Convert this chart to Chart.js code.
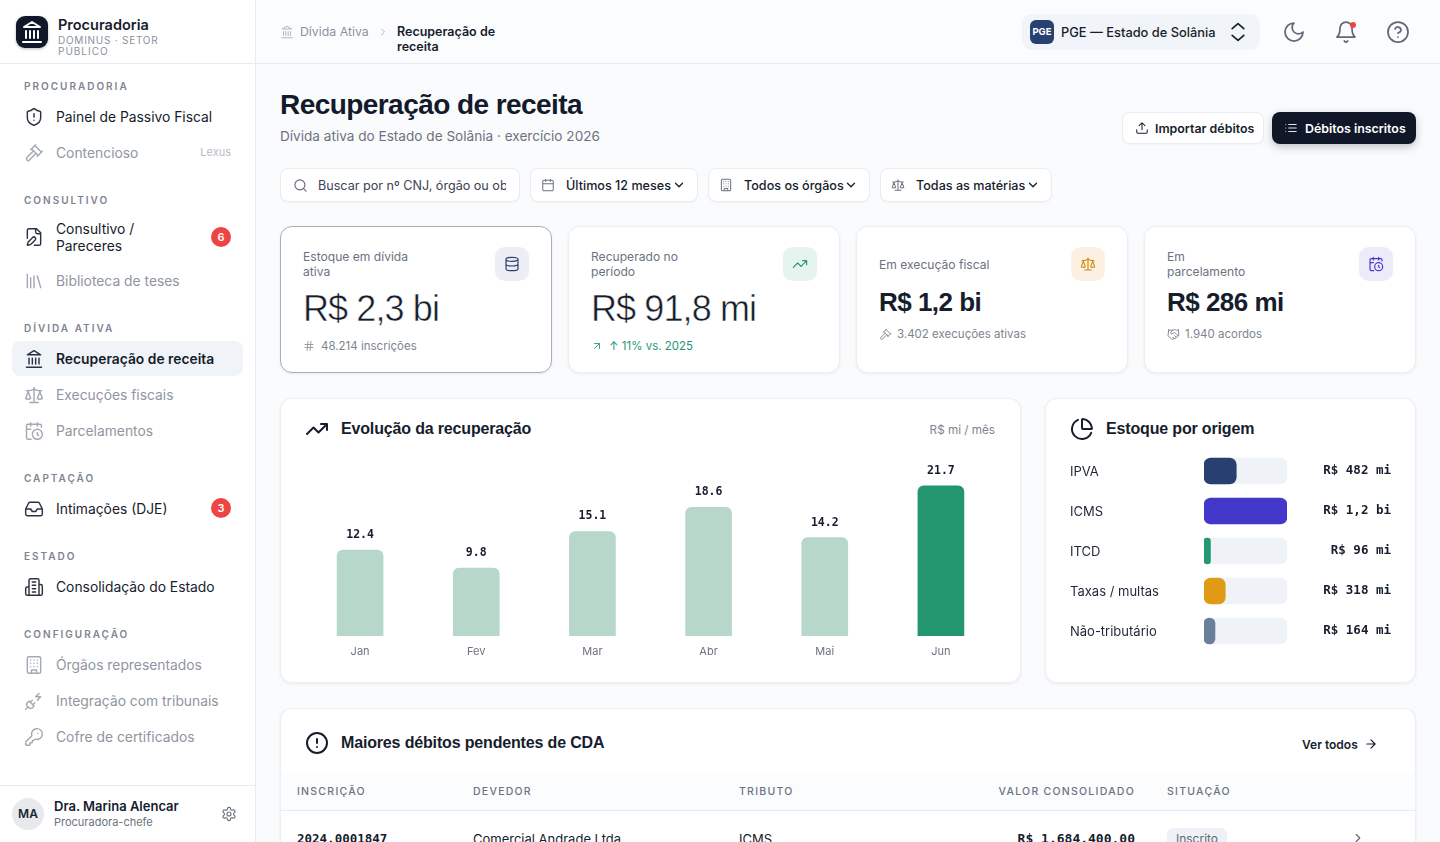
<!DOCTYPE html>
<html lang="pt-BR">
<head>
<meta charset="utf-8">
<title>Recuperação de receita</title>
<script src="https://cdn.jsdelivr.net/npm/chart.js@4"></script>
<style>
html, body { margin: 0; height: 100%; overflow: hidden; background: #fafbfc; }
body { font-family: Inter, "Noto Sans", sans-serif; color: #161d2d; }
#page { position: relative; width: 1440px; height: 842px; overflow: hidden; }
.box { position: absolute; box-sizing: border-box; }
.t { position: absolute; white-space: nowrap; line-height: 20px; }
.card { background: #fff; border: 1px solid #eceff3; border-radius: 12px; box-shadow: 0 1px 3px rgba(16,24,40,.07); }
.ctl { background: #fff; border: 1px solid #e9ecf0; border-radius: 8px; box-shadow: 0 1px 2px rgba(16,24,40,.04); }
.sec { font-size: 10px; font-weight: 600; letter-spacing: .2em; color: #7d8590; }
.head { font-family: "Liberation Sans", Arial, sans-serif; font-weight: 700; font-size: 16px; letter-spacing: -.01em; color: #161d2d; }
.mono { font-family: "DejaVu Sans Mono", monospace; font-weight: 700; }
canvas { position: absolute; }
svg { position: absolute; fill: none; stroke: currentColor; stroke-linecap: round; stroke-linejoin: round; }
</style>
</head>
<body>
<div id="page"></div>
<script>
// chart data
const months = ["Jan", "Fev", "Mar", "Abr", "Mai", "Jun"];
const recovered = [12.4, 9.8, 15.1, 18.6, 14.2, 21.7];
const highlightMonth = "Jun";

const origins = ["IPVA", "ICMS", "ITCD", "Taxas / multas", "Não-tributário"];
const originValues = [482, 1240, 96, 318, 164];
const originLabels = ["R$ 482 mi", "R$ 1,2 bi", "R$ 96 mi", "R$ 318 mi", "R$ 164 mi"];
const originColors = ["#27406f", "#4338ca", "#259873", "#e09a16", "#6b7f99"];
const originTrack = [1240, 1240, 1240, 1240, 1240];

const icons = {
    bank: 'M3 22h18M6 18v-7M10 18v-7M14 18v-7M18 18v-7M12 2l8 5H4z',
    shield: 'M20 13c0 5-3.5 7.5-7.66 8.95a1 1 0 0 1-.67-.01C7.5 20.5 4 18 4 13V6a1 1 0 0 1 1-1c2 0 4.5-1.2 6.24-2.72a1.17 1.17 0 0 1 1.52 0C14.51 3.81 17 5 19 5a1 1 0 0 1 1 1zM12 8v4M12 16h.01',
    gavel: 'm14 13-7.5 7.5a2.12 2.12 0 0 1-3-3L11 10M16 16l6-6M8 8l6-6M9 7l8 8M21 11l-8-8',
    filepen: 'M12.5 22H18a2 2 0 0 0 2-2V7l-5-5H6a2 2 0 0 0-2 2v9.5M14 2v4a2 2 0 0 0 2 2h4M13.378 15.626a1 1 0 1 0-3.004-3.004l-5.01 5.012a2 2 0 0 0-.506.854l-.837 2.87a.5.5 0 0 0 .62.62l2.87-.837a2 2 0 0 0 .854-.506z',
    library: 'm16 6 4 14M12 6v14M8 8v12M4 4v16',
    scale: 'm16 16 3-8 3 8c-.87.65-1.92 1-3 1s-2.13-.35-3-1ZM2 16l3-8 3 8c-.87.65-1.92 1-3 1s-2.13-.35-3-1ZM7 21h10M12 3v18M3 7h2c2 0 5-1 7-2 2 1 5 2 7 2h2',
    calclock: 'M21 7.5V6a2 2 0 0 0-2-2H5a2 2 0 0 0-2 2v14a2 2 0 0 0 2 2h3.5M16 2v4M8 2v4M3 10h5M17.5 17.5 16 16.3V14M22 16a6 6 0 1 1-12 0 6 6 0 0 1 12 0z',
    inbox: 'M22 12h-6l-2 3h-4l-2-3H2M5.45 5.11 2 12v6a2 2 0 0 0 2 2h16a2 2 0 0 0 2-2v-6l-3.45-6.89A2 2 0 0 0 16.76 4H7.24a2 2 0 0 0-1.79 1.11z',
    hotel: 'M6 22V4a2 2 0 0 1 2-2h8a2 2 0 0 1 2 2v18ZM6 12H4a2 2 0 0 0-2 2v6a2 2 0 0 0 2 2h2M18 9h2a2 2 0 0 1 2 2v9a2 2 0 0 1-2 2h-2M10 6h4M10 10h4M10 14h4M10 18h4',
    building: 'M6 2h12a2 2 0 0 1 2 2v16a2 2 0 0 1-2 2H6a2 2 0 0 1-2-2V4a2 2 0 0 1 2-2zM9 22v-4h6v4M8 6h.01M16 6h.01M12 6h.01M12 10h.01M12 14h.01M16 10h.01M16 14h.01M8 10h.01M8 14h.01',
    plug: 'M6.3 20.3a2.4 2.4 0 0 0 3.4 0L12 18l-6-6-2.3 2.3a2.4 2.4 0 0 0 0 3.4ZM2 22l3-3M7.5 13.5 10 11M10.5 16.5 13 14M18 3l-4 4h6l-4 4',
    key: 'M2.586 17.414A2 2 0 0 0 2 18.828V21a1 1 0 0 0 1 1h3a1 1 0 0 0 1-1v-1a1 1 0 0 1 1-1h1a1 1 0 0 0 1-1v-1a1 1 0 0 1 1-1h.172a2 2 0 0 0 1.414-.586l.814-.814a6.5 6.5 0 1 0-4-4zM16.5 7.5h.01',
    gear: 'M12.22 2h-.44a2 2 0 0 0-2 2v.18a2 2 0 0 1-1 1.73l-.43.25a2 2 0 0 1-2 0l-.15-.08a2 2 0 0 0-2.73.73l-.22.38a2 2 0 0 0 .73 2.73l.15.1a2 2 0 0 1 1 1.72v.51a2 2 0 0 1-1 1.74l-.15.09a2 2 0 0 0-.73 2.73l.22.38a2 2 0 0 0 2.73.73l.15-.08a2 2 0 0 1 2 0l.43.25a2 2 0 0 1 1 1.73V20a2 2 0 0 0 2 2h.44a2 2 0 0 0 2-2v-.18a2 2 0 0 1 1-1.73l.43-.25a2 2 0 0 1 2 0l.15.08a2 2 0 0 0 2.73-.73l.22-.39a2 2 0 0 0-.73-2.73l-.15-.08a2 2 0 0 1-1-1.74v-.5a2 2 0 0 1 1-1.74l.15-.09a2 2 0 0 0 .73-2.73l-.22-.38a2 2 0 0 0-2.73-.73l-.15.08a2 2 0 0 1-2 0l-.43-.25a2 2 0 0 1-1-1.73V4a2 2 0 0 0-2-2zM15 12a3 3 0 1 1-6 0 3 3 0 0 1 6 0z',
    chevright: 'm9 18 6-6-6-6',
    chevdown: 'm6 9 6 6 6-6',
    updown: 'm5 16 7 6 7-6M5 8l7-6 7 6',
    moon: 'M12 3a6 6 0 0 0 9 9 9 9 0 1 1-9-9Z',
    bell: 'M6 8a6 6 0 0 1 12 0c0 7 3 9 3 9H3s3-2 3-9M10.3 21a1.94 1.94 0 0 0 3.4 0',
    help: 'M22 12a10 10 0 1 1-20 0 10 10 0 0 1 20 0zM9.09 9a3 3 0 0 1 5.83 1c0 2-3 3-3 3M12 17h.01',
    upload: 'M21 15v4a2 2 0 0 1-2 2H5a2 2 0 0 1-2-2v-4M17 8l-5-5-5 5M12 3v12',
    list: 'M8 6h13M8 12h13M8 18h13M3 6h.01M3 12h.01M3 18h.01',
    search: 'M19 11a8 8 0 1 1-16 0 8 8 0 0 1 16 0zM21 21l-4.3-4.3',
    calendar: 'M8 2v4M16 2v4M5 4h14a2 2 0 0 1 2 2v14a2 2 0 0 1-2 2H5a2 2 0 0 1-2-2V6a2 2 0 0 1 2-2zM3 10h18',
    trend: 'M22 7l-8.5 8.5-5-5L2 17M16 7h6v6',
    hash: 'M4 9h16M4 15h16M10 3 8 21M16 3l-2 18',
    upright: 'M7 7h10v10M7 17 17 7',
    database: 'M21 5c0 1.66-4 3-9 3S3 6.66 3 5s4-3 9-3 9 1.34 9 3zM3 5v14c0 1.66 4 3 9 3s9-1.34 9-3V5M3 12c0 1.66 4 3 9 3s9-1.34 9-3',
    handshake: 'm11 17 2 2a1 1 0 1 0 3-3m-2-2 2.5 2.5a1 1 0 1 0 3-3l-3.88-3.88a3 3 0 0 0-4.24 0l-.88.88a1 1 0 1 1-3-3l2.81-2.81a5.79 5.79 0 0 1 7.06-.87l.47.28a2 2 0 0 0 1.42.25L21 4M21 3l1 11h-2M3 3 2 14l6.5 6.5a1 1 0 1 0 3-3M3 4h8',
    pie: 'M21 12c.552 0 1.005-.449.95-.998a10 10 0 0 0-8.953-8.951c-.55-.055-.998.398-.998.95v8a1 1 0 0 0 1 1zM21.21 15.89A10 10 0 1 1 8 2.83',
    alert: 'M22 12a10 10 0 1 1-20 0 10 10 0 0 1 20 0zM12 8v4M12 16h.01',
    arrow: 'M5 12h14M12 5l7 7-7 7'
};

const page = document.getElementById("page");

// absolute box from its edges
function box(x0, y0, x1, y1, cls, css) {
    const el = document.createElement("div");
    el.className = "box " + (cls || "");
    el.style.cssText = `left:${x0}px;top:${y0}px;width:${x1 - x0}px;height:${y1 - y0}px;${css || ""}`;
    page.appendChild(el);
    return el;
}

// text by left edge and vertical centre, a negative x means the right edge
function txt(x, cy, str, css, cls) {
    const el = document.createElement("div");
    el.className = "t " + (cls || "");
    el.textContent = str;
    const pos = x < 0 ? `right:${1440 + x}px;` : `left:${x}px;`;
    el.style.cssText = `${pos}top:${cy - 10}px;${css || ""}`;
    page.appendChild(el);
    return el;
}

function ico(name, cx, cy, size, color, sw) {
    const s = document.createElementNS("http://www.w3.org/2000/svg", "svg");
    s.setAttribute("viewBox", "0 0 24 24");
    s.setAttribute("width", size);
    s.setAttribute("height", size);
    s.style.cssText = `left:${cx - size / 2}px;top:${cy - size / 2}px;color:${color};stroke-width:${sw || 1.75}`;
    const p = document.createElementNS("http://www.w3.org/2000/svg", "path");
    p.setAttribute("d", icons[name]);
    s.appendChild(p);
    page.appendChild(s);
}

const DARK = "#161d2d";

// sidebar
box(0, 0, 256, 842, "", "background:#fff;border-right:1px solid #e8ebef;");
box(0, 63, 255, 64, "", "background:#e8ebef;");
box(0, 785, 255, 786, "", "background:#e8ebef;");
box(16, 16, 48, 48, "", "background:#0f1729;border-radius:9px;box-shadow:0 1px 3px rgba(15,23,41,.3);");
ico("bank", 32, 32, 24, "#fff", 2);
txt(58, 25, "Procuradoria", "font-size:14.5px;font-weight:600;color:#161d2d;");
txt(58, 40, "DOMINUS · SETOR", "font-size:10px;letter-spacing:.075em;color:#8b929c;");
txt(58, 51, "PÚBLICO", "font-size:10px;letter-spacing:.1em;color:#8b929c;");

const sections = [["PROCURADORIA", 86], ["CONSULTIVO", 200], ["DÍVIDA ATIVA", 328], ["CAPTAÇÃO", 478], ["ESTADO", 556], ["CONFIGURAÇÃO", 634]];
sections.forEach(s => txt(24, s[1], s[0], "", "sec"));

box(12, 341, 243, 376, "", "background:#f0f3f8;border-radius:8px;");
const navItems = [
    ["shield", "Painel de Passivo Fiscal", 117, 1],
    ["gavel", "Contencioso", 153, 0],
    ["library", "Biblioteca de teses", 281, 0],
    ["bank", "Recuperação de receita", 359, 2],
    ["scale", "Execuções fiscais", 395, 0],
    ["calclock", "Parcelamentos", 431, 0],
    ["inbox", "Intimações (DJE)", 509, 1],
    ["hotel", "Consolidação do Estado", 587, 1],
    ["building", "Órgãos representados", 665, 0],
    ["plug", "Integração com tribunais", 701, 0],
    ["key", "Cofre de certificados", 737, 0]
];
navItems.forEach(n => {
    const color = n[3] ? "#2b3342" : "#a4aab3";
    ico(n[0], 34, n[2], 20, color);
    txt(56, n[2], n[1], `font-size:13.85px;color:${n[3] ? DARK : "#8f96a1"};font-weight:${n[3] === 2 ? 600 : 400};`);
});
ico("filepen", 34, 237, 20, "#2b3342");
txt(56, 229, "Consultivo /", "font-size:13.85px;");
txt(56, 246, "Pareceres", "font-size:13.85px;");
txt(-231, 152, "Lexus", "font-size:11px;color:#b6bbc3;");
[[221, 237, "6"], [221, 508, "3"]].forEach(b => {
    const el = box(b[0] - 10, b[1] - 10, b[0] + 10, b[1] + 10, "", "background:#ef4444;border-radius:50%;color:#fff;font-size:11px;font-weight:600;text-align:center;line-height:20px;");
    el.textContent = b[2];
});
const avatar = box(12, 798, 44, 830, "", "background:#e7e9ed;border-radius:50%;font-size:12px;font-weight:600;text-align:center;line-height:32px;color:#1c2433;");
avatar.textContent = "MA";
txt(54, 806, "Dra. Marina Alencar", "font-size:13px;font-weight:600;");
txt(54, 822, "Procuradora-chefe", "font-size:11px;color:#6b7380;");
ico("gear", 229, 814, 16, "#6b7380");

// top bar
box(256, 0, 1440, 64, "", "background:#fbfcfd;border-bottom:1px solid #e8ebef;");
ico("bank", 287, 32, 14, "#b0b6bf");
txt(300, 32, "Dívida Ativa", "font-size:12.3px;color:#8b929c;");
ico("chevright", 383, 32, 12, "#a4aab3");
txt(397, 32, "Recuperação de", "font-size:12.5px;font-weight:600;");
txt(397, 47, "receita", "font-size:12.5px;font-weight:600;");
box(1022, 14, 1260, 50, "", "background:#f1f5f9;border-radius:9px;");
const pge = box(1030, 20, 1054, 44, "", "background:#27406f;border-radius:6px;color:#fff;font-size:9.5px;font-weight:700;text-align:center;line-height:24px;");
pge.textContent = "PGE";
txt(1061, 33, "PGE — Estado de Solânia", "font-size:12.85px;font-weight:500;");
ico("updown", 1238, 32, 20, DARK, 2);
ico("moon", 1294, 32, 24, "#5f6877");
ico("bell", 1346, 32, 24, "#5f6877");
box(1350, 22, 1356, 28, "", "background:#ef4444;border-radius:50%;");
ico("help", 1398, 32, 24, "#5f6877");

// page heading
txt(280, 105, "Recuperação de receita", 'font-family:"Liberation Sans",Arial,sans-serif;font-size:28px;font-weight:700;letter-spacing:-.02em;color:#121a2b;');
txt(280, 136, "Dívida ativa do Estado de Solânia · exercício 2026", "font-size:13.6px;color:#6b7380;");
box(1122, 112, 1264, 144, "ctl");
ico("upload", 1142, 128, 14, DARK);
txt(1155, 129, "Importar débitos", "font-size:12.4px;font-weight:600;");
box(1272, 112, 1416, 144, "", "background:#0f1729;border-radius:8px;box-shadow:0 3px 8px rgba(15,23,41,.25);");
ico("list", 1291, 128, 14, "#dfe3e9");
txt(1305, 129, "Débitos inscritos", "font-size:12.4px;font-weight:600;color:#fff;");

// filters
box(280, 168, 520, 202, "ctl");
ico("search", 300, 185, 15, "#5f6877");
txt(318, 186, "Buscar por nº CNJ, órgão ou objeto", "font-size:12.6px;color:#3a4353;width:188px;overflow:hidden;");
const filters = [[530, 698, "calendar", "Últimos 12 meses"], [708, 870, "building", "Todos os órgãos"], [880, 1052, "scale", "Todas as matérias"]];
filters.forEach(f => {
    box(f[0], 168, f[1], 202, "ctl");
    ico(f[2], f[0] + 18, 185, 14, "#6b7380");
    txt(f[0] + 36, 186, f[3], "font-size:12.6px;font-weight:500;");
    ico("chevdown", f[1] - 19, 185, 14, DARK, 2.25);
});

// kpi cards
box(280, 226, 552, 373, "card", "border-color:#a9aeb6;");
box(568, 226, 840, 373, "card");
box(856, 226, 1128, 373, "card");
box(1144, 226, 1416, 373, "card");
const lab = "font-size:12.1px;color:#6b7380;";
const big = 'font-family:"Liberation Sans",Arial,sans-serif;font-size:36px;line-height:40px;margin-top:-10px;color:#161d2d;letter-spacing:-.025em;-webkit-text-stroke:.5px #fff;';
const bold = 'font-family:"Liberation Sans",Arial,sans-serif;font-size:26px;line-height:30px;margin-top:-5px;color:#161d2d;font-weight:700;letter-spacing:-.02em;';
const foot = "font-size:11.5px;color:#7d8590;";
txt(303, 257, "Estoque em dívida", lab);
txt(303, 272, "ativa", lab);
box(495, 247, 529, 281, "", "background:#eceef4;border-radius:10px;");
ico("database", 512, 264, 16, "#27406f");
txt(303, 309, "R$ 2,3 bi", big);
ico("hash", 309, 346, 12, "#8b929c");
txt(321, 346, "48.214 inscrições", foot);
txt(591, 257, "Recuperado no", lab);
txt(591, 272, "período", lab);
box(783, 247, 817, 281, "", "background:#e6f3ee;border-radius:10px;");
ico("trend", 800, 264, 16, "#259873");
txt(591, 309, "R$ 91,8 mi", big);
ico("upright", 597, 346, 12, "#259873");
txt(609, 346, "↑ 11% vs. 2025", "font-size:11.5px;color:#259873;");
txt(879, 265, "Em execução fiscal", lab);
box(1071, 247, 1105, 281, "", "background:#fbf1e2;border-radius:10px;");
ico("scale", 1088, 264, 16, "#d18a12");
txt(879, 302, "R$ 1,2 bi", bold);
ico("gavel", 885, 334, 13, "#7d8590");
txt(897, 334, "3.402 execuções ativas", foot);
txt(1167, 257, "Em", lab);
txt(1167, 272, "parcelamento", lab);
box(1359, 247, 1393, 281, "", "background:#ebebfa;border-radius:10px;");
ico("calclock", 1376, 264, 16, "#4338ca");
txt(1167, 302, "R$ 286 mi", bold);
ico("handshake", 1173, 334, 13, "#7d8590");
txt(1185, 334, "1.940 acordos", foot);

// chart cards
box(280, 398, 1021, 683, "card");
ico("trend", 317, 429, 24, DARK, 2);
txt(341, 429, "Evolução da recuperação", "", "head");
txt(-995, 430, "R$ mi / mês", "font-size:11.7px;color:#7d8590;");
box(1045, 398, 1416, 683, "card");
ico("pie", 1082, 429, 24, DARK, 2);
txt(1106, 429, "Estoque por origem", "", "head");

// table card
box(280, 708, 1416, 900, "card");
ico("alert", 317, 743, 24, DARK, 2);
txt(341, 743, "Maiores débitos pendentes de CDA", "", "head");
txt(1302, 745, "Ver todos", "font-size:12px;font-weight:600;");
ico("arrow", 1371, 744, 14, DARK, 2);
box(281, 773, 1415, 811, "", "background:#fbfcfd;border-bottom:1px solid #e8ebef;");
const th = "font-size:10.5px;font-weight:500;letter-spacing:.12em;color:#6b7380;";
txt(297, 792, "INSCRIÇÃO", th);
txt(473, 792, "DEVEDOR", th);
txt(739, 792, "TRIBUTO", th);
txt(-1135, 792, "VALOR CONSOLIDADO", th);
txt(1167, 792, "SITUAÇÃO", th);
txt(297, 839, "2024.0001847", "font-size:12.5px;", "mono");
txt(473, 839, "Comercial Andrade Ltda.", "font-size:13px;");
txt(739, 839, "ICMS", "font-size:13px;");
txt(-1135, 839, "R$ 1.684.400,00", "font-size:13px;", "mono");
const badge = box(1167, 828, 1227, 850, "", "background:#eef1f6;border-radius:6px;font-size:12px;color:#5f6877;text-align:center;line-height:22px;");
badge.textContent = "Inscrito";
ico("chevright", 1358, 838, 14, "#5f6877", 2);

function addCanvas(x0, y0, x1, y1) {
    const c = document.createElement("canvas");
    c.style.cssText = `left:${x0}px;top:${y0}px;width:${x1 - x0}px;height:${y1 - y0}px;`;
    c.width = x1 - x0;
    c.height = y1 - y0;
    page.appendChild(c);
    return c;
}

// value above each bar
const barValues = {
    id: "barValues",
    afterDatasetsDraw(chart) {
        const ctx = chart.ctx;
        ctx.save();
        ctx.font = 'bold 11.5px "DejaVu Sans Mono", monospace';
        ctx.fillStyle = "#161d2d";
        ctx.textAlign = "center";
        ctx.textBaseline = "middle";
        chart.getDatasetMeta(0).data.forEach((bar, i) => {
            ctx.fillText(recovered[i].toFixed(1), bar.x, bar.y - 15);
        });
        ctx.restore();
    }
};

new Chart(addCanvas(302, 456, 999, 660), {
    type: "bar",
    data: {
        labels: months,
        datasets: [{
            data: recovered,
            backgroundColor: months.map(m => m === highlightMonth ? "#23956f" : "#b7d7cb"),
            barThickness: 46,
            borderRadius: { topLeft: 6, topRight: 6 },
            borderSkipped: "bottom"
        }]
    },
    options: {
        responsive: false,
        animation: false,
        layout: { padding: 0 },
        plugins: { legend: { display: false }, tooltip: { enabled: false } },
        scales: {
            y: { display: false, min: 0, max: 26 },
            x: {
                grid: { display: false },
                border: { display: false },
                afterFit(axis) { axis.height = 24; },
                ticks: { color: "#6b7380", font: { family: "Inter", size: 11 }, padding: 1, maxRotation: 0 }
            }
        }
    },
    plugins: [barValues]
});

// amount at the right end of each row
const originAmounts = {
    id: "originAmounts",
    afterDatasetsDraw(chart) {
        const ctx = chart.ctx;
        ctx.save();
        ctx.font = 'bold 12.5px "DejaVu Sans Mono", monospace';
        ctx.fillStyle = "#161d2d";
        ctx.textAlign = "right";
        ctx.textBaseline = "middle";
        chart.getDatasetMeta(0).data.forEach((bar, i) => {
            ctx.fillText(originLabels[i], chart.width, bar.y);
        });
        ctx.restore();
    }
};

new Chart(addCanvas(1070, 451, 1391, 651), {
    type: "bar",
    data: {
        labels: origins,
        datasets: [
            { data: originValues, backgroundColor: originColors, order: 1 },
            { data: originTrack, backgroundColor: "#eff3f7", order: 2 }
        ]
    },
    options: {
        indexAxis: "y",
        responsive: false,
        animation: false,
        layout: { padding: { right: 104 } },
        datasets: { bar: { grouped: false, barThickness: 26, borderRadius: 7, borderSkipped: false } },
        plugins: { legend: { display: false }, tooltip: { enabled: false } },
        scales: {
            x: { display: false, min: 0, max: 1240 },
            y: {
                grid: { display: false },
                border: { display: false },
                afterFit(axis) {
                    axis.width = 134;
                    axis.paddingTop = 0;
                    axis.paddingBottom = 0;
                },
                ticks: { color: "#1f2737", font: { family: "Inter", size: 13 }, crossAlign: "far", padding: 0, labelOffset: 1 }
            }
        }
    },
    plugins: [originAmounts]
});
</script>
</body>
</html>
